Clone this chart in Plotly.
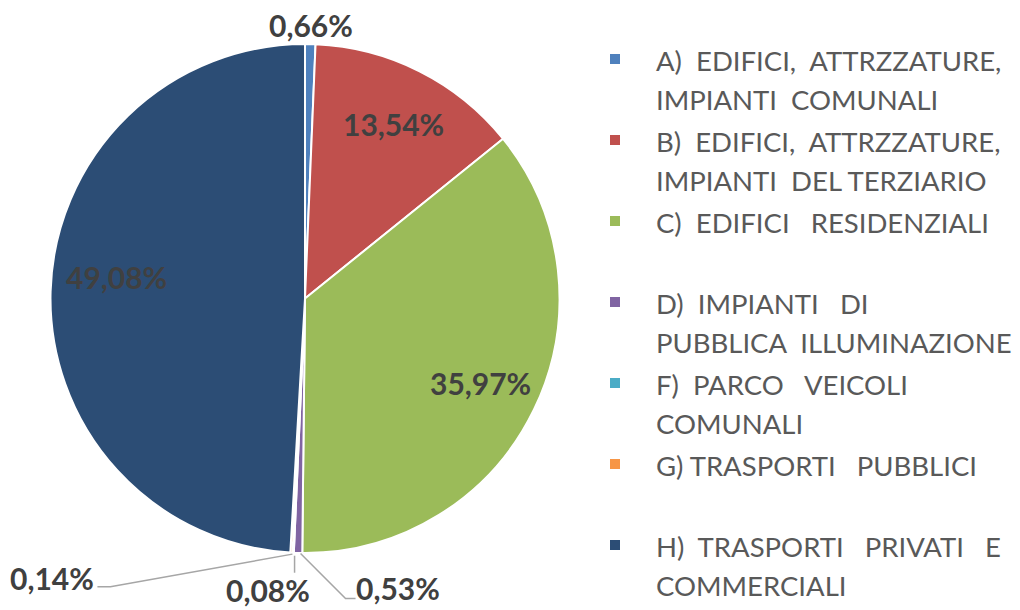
import math
import plotly.graph_objects as go

# ---------------- data ----------------
categories = ["A", "B", "C", "D", "F", "G", "H"]
legend_lines = [
    ["A)  EDIFICI,  ATTRZZATURE,", "IMPIANTI  COMUNALI"],
    ["B)  EDIFICI,  ATTRZZATURE,", "IMPIANTI  DEL TERZIARIO"],
    ["C)  EDIFICI   RESIDENZIALI", "\u00a0"],
    ["D)  IMPIANTI   DI", "PUBBLICA  ILLUMINAZIONE"],
    ["F)  PARCO   VEICOLI", "COMUNALI"],
    ["G) TRASPORTI   PUBBLICI", "\u00a0"],
    ["H)  TRASPORTI   PRIVATI   E", "COMMERCIALI"],
]
values = [0.66, 13.54, 35.97, 0.53, 0.08, 0.14, 49.08]
colors = ["#4F81BD", "#C0504D", "#9BBB59", "#8064A2", "#4BACC6", "#F79646", "#2C4D75"]

# ---------------- layout constants ----------------
OFF = 8  # page body margin of the html page
W, H = 1020 - OFF, 610 - OFF  # figure size so that it fits the window without scrollbars
CX, CY, R = 305.0, 298.5, 254.5  # target pie centre / radius on screen
LABEL_FONT = dict(family="Lato, 'Open Sans', sans-serif", size=30, color="#404040", weight="bold")
LINE_COLOR = "#A6A6A6"
LEGEND_TEXT_PX = 27.5

# label placement style per slice:
#   ("radial", fraction_of_radius, angle_tweak_deg)
#   ("leader", label_offset_px, leader_path_offsets_px)
placement = {
    "A": ("radial", 1.075, 0.0),
    "B": ("radial", 0.77, 0.0),
    "C": ("radial", 0.765, 0.0),
    "H": ("radial", 0.747, 4.8),
    "D": ("leader", (100, 35), [(2.5, 0.5), (47.5, 45.5), (57.5, 45.5)]),
    "F": ("leader", (-25, 37), [(1.4, 3), (1.4, 20)]),
    "G": ("leader", (-239, 25), [(1, 1.5), (-181, 34), (-194, 34)]),
}


def to_paper(px, py):
    return (px - OFF) / W, 1 - (py - OFF) / H


legend_labels = [
    "<br>".join(f'<span style="font-size:{LEGEND_TEXT_PX}px">{ln}</span>' for ln in lines)
    for lines in legend_lines
]

fig = go.Figure(
    go.Pie(
        labels=legend_labels,
        values=values,
        marker=dict(colors=colors, line=dict(color="white", width=2)),
        sort=False,
        direction="clockwise",
        rotation=0,
        textinfo="none",
        hoverinfo="percent",
        domain=dict(
            x=[(CX - OFF - R) / W, (CX - OFF + R) / W],
            y=[1 - (CY - OFF + R) / H, 1 - (CY - OFF - R) / H],
        ),
    )
)

total = sum(values)
cum = 0.0
annotations = []
shapes = []
for cat, v in zip(categories, values):
    theta = 2 * math.pi * (cum + v / 2) / total
    cum += v
    txt = f"{v:.2f}%".replace(".", ",")
    pl = placement[cat]
    if pl[0] == "radial":
        th = theta + math.radians(pl[2])
        px = CX + pl[1] * R * math.sin(th)
        py = CY - pl[1] * R * math.cos(th)
    else:
        ex = CX + R * math.sin(theta)
        ey = CY - R * math.cos(theta)
        px, py = ex + pl[1][0], ey + pl[1][1]
        pts = [to_paper(ex + dx, ey + dy) for dx, dy in pl[2]]
        path = "M " + " L ".join(f"{a:.5f},{b:.5f}" for a, b in pts)
        shapes.append(dict(type="path", path=path, xref="paper", yref="paper",
                           line=dict(color=LINE_COLOR, width=1.5)))
    x, y = to_paper(px, py)
    annotations.append(dict(x=x, y=y, xref="paper", yref="paper", text=txt,
                            xanchor="center", yanchor="middle",
                            showarrow=False, font=LABEL_FONT))

fig.update_layout(
    width=W,
    height=H,
    margin=dict(l=0, r=0, t=0, b=0),
    paper_bgcolor="white",
    plot_bgcolor="white",
    separators=",.",
    annotations=annotations,
    shapes=shapes,
    showlegend=True,
    legend=dict(
        x=(574 - OFF) / W,
        y=1 - (35 - OFF) / H,
        xanchor="left",
        yanchor="top",
        valign="top",
        font=dict(family="Lato, 'Open Sans', sans-serif", size=30, color="#595959"),
        bgcolor="rgba(0,0,0,0)",
        itemwidth=72,
    ),
)

fig.write_html("out.html")
